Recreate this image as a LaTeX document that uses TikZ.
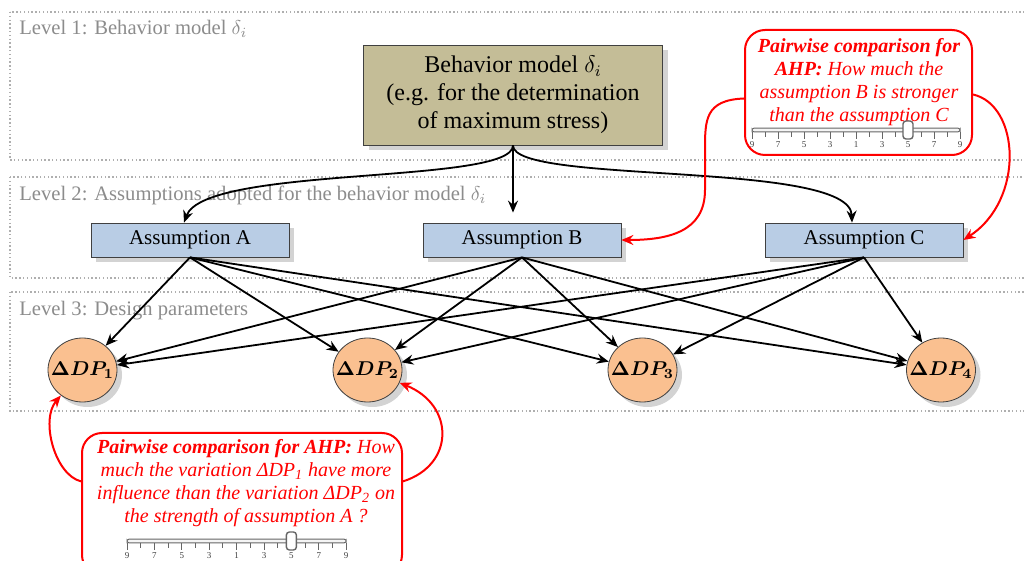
\documentclass[tikz,border=0pt]{standalone}
\usepackage{fontspec}
\setmainfont{Liberation Serif}
\usetikzlibrary{arrows.meta,shapes.geometric,shadows}

\definecolor{behavfill}{HTML}{C4BD97}
\definecolor{assumfill}{HTML}{B9CDE5}
\definecolor{dpfill}{HTML}{FAC090}
\definecolor{levelgray}{HTML}{8C8C8C}

\tikzset{
  levelbox/.style={draw=levelgray!70, line width=0.7pt, dash pattern=on 0.7pt off 1.2pt},
  levellabel/.style={anchor=base west, inner sep=0pt, text=levelgray, font=\fontsize{10.3}{12}\selectfont},
  boxshadow/.style={drop shadow={opacity=0.35, shadow xshift=2.5pt, shadow yshift=-2.5pt}},
  behav/.style={draw=black!75, fill=behavfill, minimum width=149.5pt, minimum height=50pt,
    align=center, font=\large, inner sep=0pt, boxshadow},
  assum/.style={draw=black!75, fill=assumfill, minimum width=99pt, minimum height=17pt,
    inner sep=0pt, font=\fontsize{10.5}{12}\selectfont, boxshadow},
  dpnode/.style={ellipse, draw=black!75, fill=dpfill, minimum width=34.5pt, minimum height=32pt,
    inner xsep=-8pt, inner ysep=-2pt, font=\fontsize{10}{12}\selectfont, boxshadow},
  link/.style={-{Stealth[length=6pt, width=5pt, inset=2pt]}, line width=0.9pt},
  ahplink/.style={-{Stealth[length=6pt, width=5pt, inset=2pt]}, red, line width=1pt},
  ahpbox/.style={draw=red, line width=1pt, fill=white, rounded corners=10pt},
  ahptext/.style={text=red, align=center, inner sep=0pt, font=\fontsize{10}{11.5}\selectfont\itshape},
  tickmark/.style={draw=gray!80!black, line width=0.5pt},
  ticklabel/.style={inner sep=0pt, text=gray!50!black, font=\fontsize{4.5}{5}\selectfont},
}

% slider: #1 name prefix, #2 left x, #3 bar y, #4 tick step
\newcommand{\ahpslider}[4]{%
  \draw[tickmark, fill=gray!8, rounded corners=1pt] (#2,#3-1.8) rectangle ({#2+16*#4},#3+1.8);
  \foreach \k in {0,2,...,16} \draw[tickmark] ({#2+\k*#4},#3+2) -- ++(0,7);
  \foreach \k in {1,3,...,15} \draw[tickmark] ({#2+\k*#4},#3+2) -- ++(0,5);
  \foreach \v [count=\k from 0] in {9,7,5,3,1,3,5,7,9}
    \node[ticklabel] (#1-\k) at ({#2+2*\k*#4},#3+15) {\v};
  \draw[tickmark, line width=0.7pt, fill=white, rounded corners=1.5pt]
    ({#2+12*#4-5},#3-9) rectangle ({#2+12*#4+5},#3+9);
}

\begin{document}
\begin{tikzpicture}[x=0.5pt, y=-0.5pt]
  \useasboundingbox (0,0) rectangle (1024,561);
  \clip (0,0) rectangle (1024,561);

  % the three levels
  \draw[levelbox] (10,12) rectangle (1040,160);
  \draw[levelbox] (10,177) rectangle (1040,278);
  \draw[levelbox] (10,292) rectangle (1040,411);
  \node[levellabel] (lev1) at (19,35) {Level 1: Behavior model $\delta_i$};
  \node[levellabel] (lev2) at (19,201) {Level 2: Assumptions adopted for the behavior model $\delta_i$};
  \node[levellabel] (lev3) at (19,316) {Level 3: Design parameters};

  \node[behav] (beh) at (513,95) {Behavior model $\delta_i$\\(e.g. for the determination\\of maximum stress)};

  \node[assum] (asA) at (190,240) {Assumption A};
  \node[assum] (asB) at (522,240) {Assumption B};
  \node[assum] (asC) at (864,240) {Assumption C};

  \node[dpnode] (dp1) at (82.5,370) {{\boldmath$\Delta DP_1$}};
  \node[dpnode] (dp2) at (367.5,370) {{\boldmath$\Delta DP_2$}};
  \node[dpnode] (dp3) at (642.5,370) {{\boldmath$\Delta DP_3$}};
  \node[dpnode] (dp4) at (941,370) {{\boldmath$\Delta DP_4$}};

  % behavior model -> assumptions
  \draw[link] (beh.south) .. controls (513,185) and (205,165) .. ([xshift=-3pt]asA.north);
  \draw[link, shorten >=5pt] (beh.south) -- (beh.south |- asB.north);
  \draw[link] (beh.south) .. controls (513,185) and (850,160) .. ([xshift=-6pt]asC.north);

  % assumptions -> design parameters
  \draw[link] (asA.south) -- (dp1);
  \draw[link] (asA.south) -- (dp2);
  \draw[link] (asA.south) -- (dp3);
  \draw[link] (asA.south) -- (dp4);
  \draw[link] (asB.south) -- (dp1);
  \draw[link] (asB.south) -- (dp2);
  \draw[link] (asB.south) -- (dp3);
  \draw[link] (asB.south) -- (dp4);
  \draw[link] (asC.south) -- (dp1);
  \draw[link] (asC.south) -- (dp2);
  \draw[link] (asC.south) -- (dp3);
  \draw[link] (asC.south) -- (dp4);

  % AHP comparison between assumptions
  \node[ahpbox, minimum width=113.5pt, minimum height=62.5pt] (ahpC) at (858.5,92.5) {};
  \node[ahptext] (txtC) at (859,82) {\textbf{Pairwise comparison for}\\\textbf{AHP:} How much the\\assumption B is stronger\\than the assumption C};
  \ahpslider{top}{752}{130}{13}
  \draw[ahplink] (ahpC.183) .. controls (705,100) and (705,120) .. (705,150) -- (705,190)
    .. controls (705,232) and (668,240) .. (asB.east);
  \draw[ahplink] (ahpC.-1) .. controls (1020,105) and (1025,200) .. (asC.east);

  % AHP comparison between design parameters
  \node[ahpbox, minimum width=160pt, minimum height=71pt] (ahpD) at (242,504) {};
  \node[ahptext] (txtD) at (246,483) {\textbf{Pairwise comparison for AHP:} How\\much the variation ΔDP\textsubscript{1} have more\\influence than the variation ΔDP\textsubscript{2} on\\the strength of assumption A ?};
  \ahpslider{bot}{127}{541}{13.7}
  \draw[ahplink] (ahpD.172) .. controls (55,475) and (40,420) .. (dp1);
  \draw[ahplink] (ahpD.8) .. controls (455,465) and (455,405) .. (dp2);
\end{tikzpicture}
\end{document}
